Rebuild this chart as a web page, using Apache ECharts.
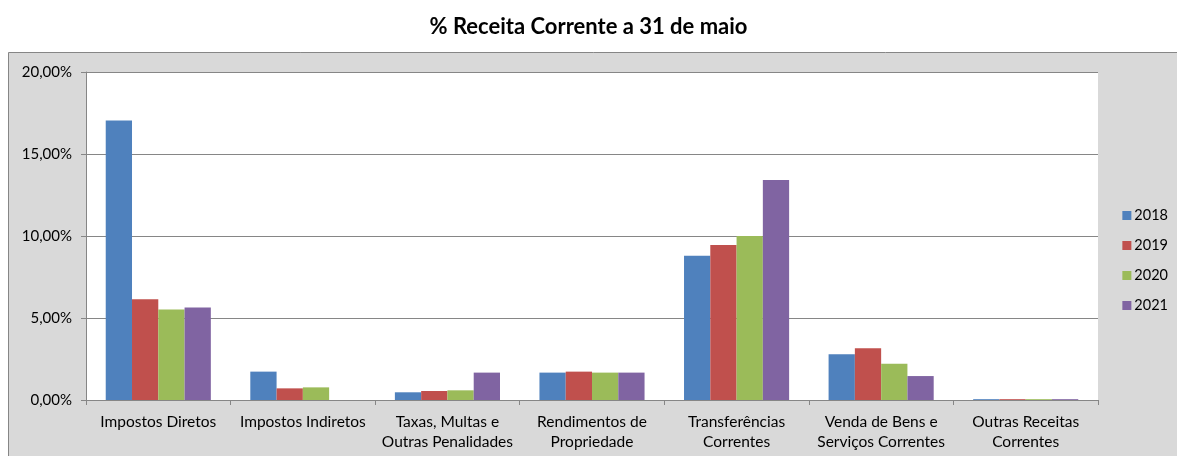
<!DOCTYPE html>
<html>
<head>
<meta charset="utf-8">
<script src="https://cdn.jsdelivr.net/npm/echarts@6/dist/echarts.min.js"></script>
<style>
  html, body { margin: 0; padding: 0; background: #fff; }
  #chart { width: 1177px; height: 456px; }
</style>
</head>
<body>
<div id="chart"></div>
<script>
// categorias (eixo X)
var categories = [
  'Impostos Diretos',
  'Impostos Indiretos',
  'Taxas, Multas e\nOutras Penalidades',
  'Rendimentos de\nPropriedade',
  'Transferências\nCorrentes',
  'Venda de Bens e\nServiços Correntes',
  'Outras Receitas\nCorrentes'
];
var years = ['2018', '2019', '2020', '2021'];
// valores em %
var v2018 = [17.05, 1.73, 0.47, 1.67, 8.80, 2.79, 0.05];
var v2019 = [6.15, 0.71, 0.55, 1.73, 9.45, 3.15, 0.05];
var v2020 = [5.52, 0.77, 0.59, 1.67, 10.00, 2.21, 0.05];
var v2021 = [5.64, 0, 1.67, 1.67, 13.41, 1.46, 0.05];
var colors = ['#4f81bd', '#c0504d', '#9bbb59', '#8064a2'];

var font = 'Lato, "Open Sans", sans-serif';
var chart = echarts.init(document.getElementById('chart'));

var allData = [v2018, v2019, v2020, v2021];
var series = years.map(function (y, i) {
  return {
    name: y,
    type: 'bar',
    data: allData[i],
    barGap: '0%',
    barCategoryGap: '27.3%',
    itemStyle: { color: colors[i] }
  };
});

chart.setOption({
  animation: false,
  textStyle: { fontFamily: font },
  title: {
    text: '% Receita Corrente a 31 de maio',
    left: 'center',
    top: 11,
    textStyle: { fontSize: 22, fontWeight: 'bold', color: '#000', fontFamily: font }
  },
  graphic: [{
    type: 'rect',
    z: -10,
    shape: { x: 8.5, y: 52.5, width: 1200, height: 420 },
    style: { fill: '#d9d9d9', stroke: '#868686', lineWidth: 1 }
  }],
  legend: {
    orient: 'vertical',
    right: 4,
    top: 203,
    itemWidth: 9,
    itemHeight: 9,
    itemGap: 15,
    icon: 'rect',
    data: years,
    textStyle: { fontSize: 14.5, color: '#000', fontFamily: font, padding: [0, 0, 0, -2] }
  },
  grid: {
    left: 86,
    top: 72,
    right: 79,
    bottom: 56,
    show: true,
    backgroundColor: '#fff',
    borderWidth: 0
  },
  xAxis: {
    type: 'category',
    data: categories,
    axisLine: { lineStyle: { color: '#868686' } },
    axisTick: { show: true, length: 5, lineStyle: { color: '#868686' } },
    axisLabel: {
      interval: 0,
      fontSize: 15.5,
      color: '#000',
      lineHeight: 20,
      margin: 12,
      fontFamily: font
    }
  },
  yAxis: {
    type: 'value',
    min: 0,
    max: 20,
    interval: 5,
    axisLine: { show: true, lineStyle: { color: '#868686' } },
    axisTick: { show: true, length: 5, lineStyle: { color: '#868686' } },
    splitLine: { lineStyle: { color: '#868686' } },
    axisLabel: {
      fontSize: 15,
      color: '#000',
      margin: 14,
      fontFamily: font,
      formatter: function (v) { return v.toFixed(2).replace('.', ',') + '%'; }
    }
  },
  series: series
});
</script>
</body>
</html>
